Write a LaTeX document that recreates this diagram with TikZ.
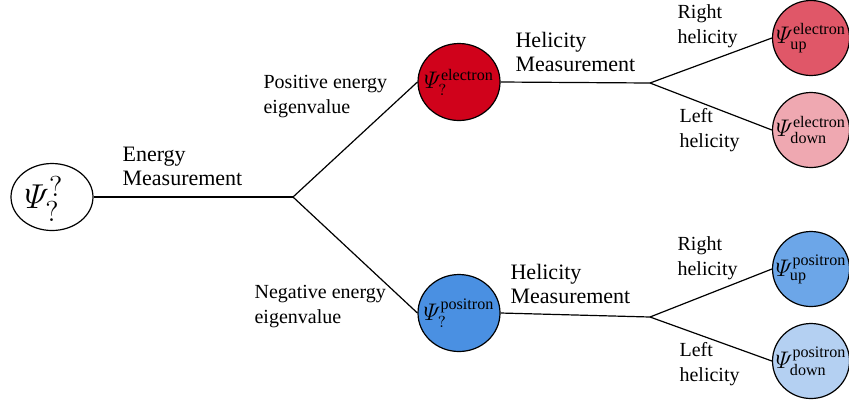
\documentclass[tikz,border=0pt]{standalone}
\usepackage{amsmath}
\usepackage{fontspec}
\setmainfont{Liberation Serif}
\usetikzlibrary{shapes.geometric, positioning}
\definecolor{elecmain}{RGB}{208, 2, 27}
\definecolor{elecup}{RGB}{224, 87, 104}
\definecolor{elecdown}{RGB}{239, 168, 177}
\definecolor{posmain}{RGB}{74, 144, 226}
\definecolor{posup}{RGB}{108, 166, 232}
\definecolor{posdown}{RGB}{180, 208, 242}

\begin{document}
\begin{tikzpicture}[x=0.5pt, y=-0.5pt, line width=0.6pt,
            state/.style={draw=black, ellipse, inner sep=0pt, minimum width=41pt, minimum height=38.5pt},
            leaf/.style={state, minimum width=38.5pt, minimum height=37.5pt},
            psi/.style={label={[font=\fontsize{11.5}{13}\selectfont]center:#1}},
            bigtext/.style={anchor=base west, inner sep=0pt, align=left, font=\fontsize{11}{12}\selectfont},
            smalltext/.style={anchor=base west, inner sep=0pt, align=left, font=\fontsize{10}{12.5}\selectfont}
        ]
            \useasboundingbox (0,0) rectangle (849,403);

            % states
            \node[state, minimum height=33.5pt, label={[font=\fontsize{19}{21}\selectfont, xshift=-4pt, yshift=-1pt]center:$\varPsi^{?}_{?}$}] (root) at (52,197) {};
            \node[state, fill=elecmain, psi={$\varPsi^{\text{electron}}_{?}$}] (elec) at (459,82) {};
            \node[state, fill=posmain, psi={$\varPsi^{\text{positron}}_{?}$}] (posi) at (459,313) {};
            \node[leaf, fill=elecup, psi={$\varPsi^{\text{electron}}_{\text{up}}$}] (eup) at (811,38) {};
            \node[leaf, fill=elecdown, psi={$\varPsi^{\text{electron}}_{\text{down}}$}] (edown) at (811,130) {};
            \node[leaf, fill=posup, psi={$\varPsi^{\text{positron}}_{\text{up}}$}] (pup) at (811,269) {};
            \node[leaf, fill=posdown, psi={$\varPsi^{\text{positron}}_{\text{down}}$}] (pdown) at (811,361) {};

            % branch points
            \coordinate (split) at (293,197);
            \coordinate (hsplitE) at (650,83);
            \coordinate (hsplitP) at (650,317);

            \draw (root) -- (split);
            \draw (split) -- (elec.west);
            \draw (split) -- (posi.west);
            \draw (elec.east) -- (hsplitE);
            \draw (posi.east) -- (hsplitP);
            \draw (hsplitE) -- (eup.west);
            \draw (hsplitE) -- (edown.west);
            \draw (hsplitP) -- (pup.west);
            \draw (hsplitP) -- (pdown.west);

            % labels (base = last line)
            \node[bigtext] (emeas) at (122,185) {Energy\\Measurement};
            \node[smalltext] (poslbl) at (263,113) {Positive energy\\eigenvalue};
            \node[smalltext] (neglbl) at (254,323) {Negative energy\\eigenvalue};
            \node[bigtext] (hmeasE) at (515,71) {Helicity\\Measurement};
            \node[bigtext] (hmeasP) at (510,303) {Helicity\\Measurement};
            \node[smalltext] (rightE) at (677,43) {Right\\helicity};
            \node[smalltext] (leftE) at (679,147) {Left\\helicity};
            \node[smalltext] (rightP) at (677,275) {Right\\helicity};
            \node[smalltext] (leftP) at (679,381) {Left\\helicity};
        \end{tikzpicture}
\end{document}
